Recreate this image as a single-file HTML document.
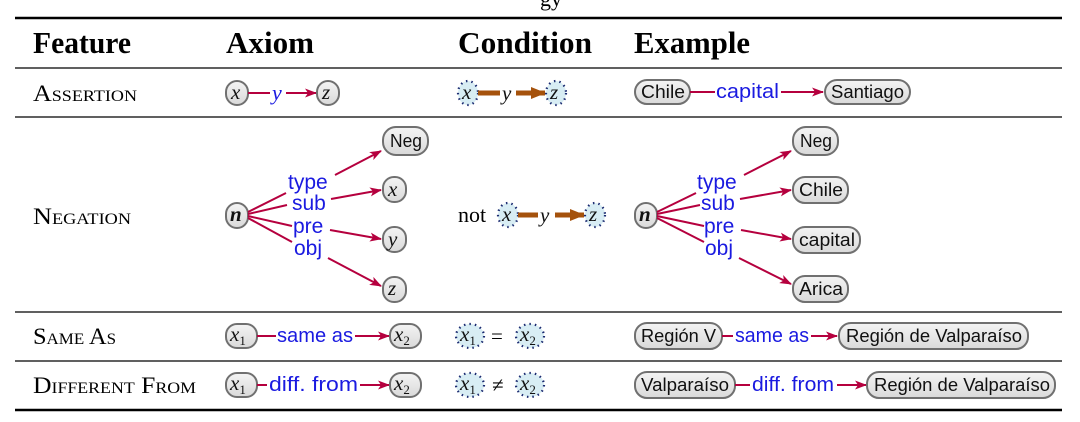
<!DOCTYPE html>
<html><head><meta charset="utf-8"><style>
html,body{margin:0;padding:0;background:#fff;width:1080px;height:422px;overflow:hidden}
svg text{font-family:"Liberation Serif",serif}
.h{font-weight:bold;font-size:31px}
.f{font-size:23px;font-variant:small-caps}
.nd{fill:url(#g);stroke:#707070;stroke-width:2}
.nl{font-family:"Liberation Sans",sans-serif !important;font-size:18.5px;fill:#111}
.v{font-style:italic;font-size:21px;fill:#111}
.b{font-family:"Liberation Sans",sans-serif !important;font-size:20.5px;fill:#1a1ae0}
.b2{font-family:"Liberation Sans",sans-serif !important;font-size:21px;fill:#1a1ae0}
.bv{font-style:italic;font-size:22px;fill:#1a1ae0}
.r{stroke:#b5003e;stroke-width:2;fill:none}
.c{fill:#d8edf4;stroke:#1a2a70;stroke-width:2.2;stroke-dasharray:1.5 4}
</style></head><body>
<svg width="1080" height="422" viewBox="0 0 1080 422" xmlns="http://www.w3.org/2000/svg">
<defs>
<linearGradient id="g" x1="0" y1="0" x2="0" y2="1"><stop offset="0" stop-color="#f4f4f4"/><stop offset="1" stop-color="#d9d9d9"/></linearGradient>
<marker id="a" markerWidth="12" markerHeight="9" refX="11" refY="4.5" orient="auto" markerUnits="userSpaceOnUse"><path d="M0,0 L12,4.5 L0,9 L3,4.5 Z" fill="#b5003e"/></marker>
<marker id="ab" markerWidth="15" markerHeight="12" refX="14" refY="6" orient="auto" markerUnits="userSpaceOnUse"><path d="M0,0 L15,6 L0,12 Z" fill="#a5520c"/></marker>
</defs>
<text x="540" y="6" font-size="22">gy</text>
<line x1="15" y1="18" x2="1062" y2="18" stroke="#000" stroke-width="2.5"/>
<line x1="15" y1="68" x2="1062" y2="68" stroke="#000" stroke-width="1.2"/>
<line x1="15" y1="117" x2="1062" y2="117" stroke="#000" stroke-width="1.2"/>
<line x1="15" y1="312" x2="1062" y2="312" stroke="#000" stroke-width="1.2"/>
<line x1="15" y1="361" x2="1062" y2="361" stroke="#000" stroke-width="1.2"/>
<line x1="15" y1="410" x2="1062" y2="410" stroke="#000" stroke-width="2.5"/>
<text class="h" x="33" y="53" textLength="98" lengthAdjust="spacingAndGlyphs">Feature</text>
<text class="h" x="226" y="53" textLength="88" lengthAdjust="spacingAndGlyphs">Axiom</text>
<text class="h" x="458" y="53" textLength="134" lengthAdjust="spacingAndGlyphs">Condition</text>
<text class="h" x="634" y="53" textLength="116" lengthAdjust="spacingAndGlyphs">Example</text>
<text class="f" x="33" y="101" textLength="104" lengthAdjust="spacingAndGlyphs">Assertion</text>
<text class="f" x="33" y="224" textLength="98" lengthAdjust="spacingAndGlyphs">Negation</text>
<text class="f" x="33" y="344" textLength="83" lengthAdjust="spacingAndGlyphs">Same As</text>
<text class="f" x="33" y="393" textLength="163" lengthAdjust="spacingAndGlyphs">Different From</text>

<!-- Assertion axiom -->
<rect class="nd" x="226" y="81" width="22" height="24" rx="11"/><text class="v" x="231" y="99">x</text>
<line class="r" x1="248" y1="93" x2="270" y2="93"/><text class="bv" x="272" y="100">y</text>
<line class="r" x1="286" y1="93" x2="316" y2="93" marker-end="url(#a)"/>
<rect class="nd" x="317" y="81" width="22" height="24" rx="11"/><text class="v" x="322" y="99">z</text>
<!-- Assertion cond -->
<ellipse class="c" cx="468" cy="93" rx="10" ry="12"/><text class="v" x="462" y="99">x</text>
<line x1="478" y1="93" x2="500" y2="93" stroke="#a5520c" stroke-width="5"/><text class="v" x="502" y="100">y</text>
<line x1="516" y1="93" x2="545" y2="93" stroke="#a5520c" stroke-width="5" marker-end="url(#ab)"/>
<ellipse class="c" cx="556" cy="93" rx="10" ry="12"/><text class="v" x="550" y="99">z</text>
<!-- Assertion example -->
<rect class="nd" x="635" y="80" width="55" height="24" rx="12"/><text class="nl" x="641" y="98" textLength="44" lengthAdjust="spacingAndGlyphs">Chile</text>
<line class="r" x1="690" y1="92" x2="715" y2="92"/><text class="b" x="716" y="98" textLength="63" lengthAdjust="spacingAndGlyphs">capital</text>
<line class="r" x1="781" y1="92" x2="823" y2="92" marker-end="url(#a)"/>
<rect class="nd" x="825" y="80" width="85" height="24" rx="12"/><text class="nl" x="831" y="98" textLength="73" lengthAdjust="spacingAndGlyphs">Santiago</text>

<!-- Negation axiom -->
<rect class="nd" x="226" y="203" width="22" height="25" rx="11"/><text class="v" x="230" y="221" font-weight="bold">n</text>
<line class="r" x1="248" y1="212" x2="286" y2="193"/>
<line class="r" x1="248" y1="214" x2="287" y2="205"/>
<line class="r" x1="248" y1="216" x2="292" y2="226"/>
<line class="r" x1="248" y1="218" x2="292" y2="242"/>
<text class="b2" x="288" y="189">type</text>
<text class="b2" x="292" y="210">sub</text>
<text class="b2" x="293" y="233">pre</text>
<text class="b2" x="294" y="255">obj</text>
<line class="r" x1="335" y1="175" x2="381" y2="151" marker-end="url(#a)"/>
<line class="r" x1="331" y1="199" x2="381" y2="190" marker-end="url(#a)"/>
<line class="r" x1="330" y1="230" x2="381" y2="239" marker-end="url(#a)"/>
<line class="r" x1="328" y1="258" x2="381" y2="286" marker-end="url(#a)"/>
<rect class="nd" x="383" y="127" width="45" height="28" rx="13"/><text class="nl" x="390" y="147" textLength="32" lengthAdjust="spacingAndGlyphs">Neg</text>
<rect class="nd" x="383" y="177" width="23" height="25" rx="11"/><text class="v" x="388" y="196">x</text>
<rect class="nd" x="383" y="227" width="23" height="25" rx="11"/><text class="v" x="388" y="246">y</text>
<rect class="nd" x="383" y="277" width="23" height="25" rx="11"/><text class="v" x="388" y="295">z</text>
<!-- Negation cond -->
<text x="458" y="222" font-size="22">not</text>
<ellipse class="c" cx="508" cy="215" rx="10" ry="12"/><text class="v" x="502" y="221">x</text>
<line x1="518" y1="215" x2="538" y2="215" stroke="#a5520c" stroke-width="5"/><text class="v" x="540" y="222">y</text>
<line x1="555" y1="215" x2="584" y2="215" stroke="#a5520c" stroke-width="5" marker-end="url(#ab)"/>
<ellipse class="c" cx="595" cy="215" rx="10" ry="12"/><text class="v" x="589" y="221">z</text>
<!-- Negation example -->
<rect class="nd" x="635" y="203" width="22" height="25" rx="11"/><text class="v" x="639" y="221" font-weight="bold">n</text>
<line class="r" x1="657" y1="212" x2="696" y2="193"/>
<line class="r" x1="657" y1="214" x2="700" y2="205"/>
<line class="r" x1="657" y1="216" x2="704" y2="226"/>
<line class="r" x1="657" y1="218" x2="704" y2="242"/>
<text class="b2" x="697" y="189">type</text>
<text class="b2" x="701" y="210">sub</text>
<text class="b2" x="704" y="233">pre</text>
<text class="b2" x="705" y="255">obj</text>
<line class="r" x1="744" y1="175" x2="791" y2="151" marker-end="url(#a)"/>
<line class="r" x1="740" y1="199" x2="791" y2="190" marker-end="url(#a)"/>
<line class="r" x1="741" y1="230" x2="791" y2="239" marker-end="url(#a)"/>
<line class="r" x1="739" y1="258" x2="791" y2="284" marker-end="url(#a)"/>
<rect class="nd" x="793" y="127" width="45" height="28" rx="13"/><text class="nl" x="800" y="147" textLength="32" lengthAdjust="spacingAndGlyphs">Neg</text>
<rect class="nd" x="793" y="177" width="55" height="26" rx="12"/><text class="nl" x="799" y="196" textLength="44" lengthAdjust="spacingAndGlyphs">Chile</text>
<rect class="nd" x="793" y="227" width="67" height="26" rx="12"/><text class="nl" x="799" y="246" textLength="56" lengthAdjust="spacingAndGlyphs">capital</text>
<rect class="nd" x="793" y="276" width="55" height="26" rx="12"/><text class="nl" x="799" y="295" textLength="44" lengthAdjust="spacingAndGlyphs">Arica</text>

<!-- Same As -->
<rect class="nd" x="226" y="324" width="31" height="24" rx="11"/><text class="v" x="230" y="341">x<tspan font-size="13" dy="4" font-style="normal">1</tspan></text>
<line class="r" x1="257" y1="336" x2="276" y2="336"/><text class="b" x="277" y="342" textLength="76" lengthAdjust="spacingAndGlyphs">same as</text>
<line class="r" x1="355" y1="336" x2="389" y2="336" marker-end="url(#a)"/>
<rect class="nd" x="390" y="324" width="31" height="24" rx="11"/><text class="v" x="394" y="341">x<tspan font-size="13" dy="4" font-style="normal">2</tspan></text>
<ellipse class="c" cx="470" cy="336" rx="14" ry="12"/><text class="v" x="460" y="341">x<tspan font-size="13" dy="4" font-style="normal">1</tspan></text>
<text x="491" y="343" font-size="21">=</text>
<ellipse class="c" cx="530" cy="336" rx="14" ry="12"/><text class="v" x="520" y="341">x<tspan font-size="13" dy="4" font-style="normal">2</tspan></text>
<rect class="nd" x="635" y="323" width="87" height="26" rx="12"/><text class="nl" x="641" y="342" textLength="75" lengthAdjust="spacingAndGlyphs">Región V</text>
<line class="r" x1="722" y1="336" x2="733" y2="336"/><text class="b" x="735" y="342" textLength="74" lengthAdjust="spacingAndGlyphs">same as</text>
<line class="r" x1="811" y1="336" x2="837" y2="336" marker-end="url(#a)"/>
<rect class="nd" x="839" y="323" width="189" height="26" rx="12"/><text class="nl" x="846" y="342" textLength="176" lengthAdjust="spacingAndGlyphs">Región de Valparaíso</text>

<!-- Different From -->
<rect class="nd" x="226" y="373" width="31" height="24" rx="11"/><text class="v" x="230" y="390">x<tspan font-size="13" dy="4" font-style="normal">1</tspan></text>
<line class="r" x1="257" y1="385" x2="267" y2="385"/><text class="b" x="269" y="391" textLength="89" lengthAdjust="spacingAndGlyphs">diff. from</text>
<line class="r" x1="360" y1="385" x2="389" y2="385" marker-end="url(#a)"/>
<rect class="nd" x="390" y="373" width="31" height="24" rx="11"/><text class="v" x="394" y="390">x<tspan font-size="13" dy="4" font-style="normal">2</tspan></text>
<ellipse class="c" cx="470" cy="385" rx="14" ry="12"/><text class="v" x="460" y="390">x<tspan font-size="13" dy="4" font-style="normal">1</tspan></text>
<text x="492" y="392" font-size="21">≠</text>
<ellipse class="c" cx="530" cy="385" rx="14" ry="12"/><text class="v" x="520" y="390">x<tspan font-size="13" dy="4" font-style="normal">2</tspan></text>
<rect class="nd" x="635" y="372" width="100" height="26" rx="12"/><text class="nl" x="641" y="391" textLength="88" lengthAdjust="spacingAndGlyphs">Valparaíso</text>
<line class="r" x1="735" y1="385" x2="750" y2="385"/><text class="b" x="752" y="391" textLength="82" lengthAdjust="spacingAndGlyphs">diff. from</text>
<line class="r" x1="837" y1="385" x2="866" y2="385" marker-end="url(#a)"/>
<rect class="nd" x="867" y="372" width="188" height="26" rx="12"/><text class="nl" x="874" y="391" textLength="176" lengthAdjust="spacingAndGlyphs">Región de Valparaíso</text>
</svg>
</body></html>
